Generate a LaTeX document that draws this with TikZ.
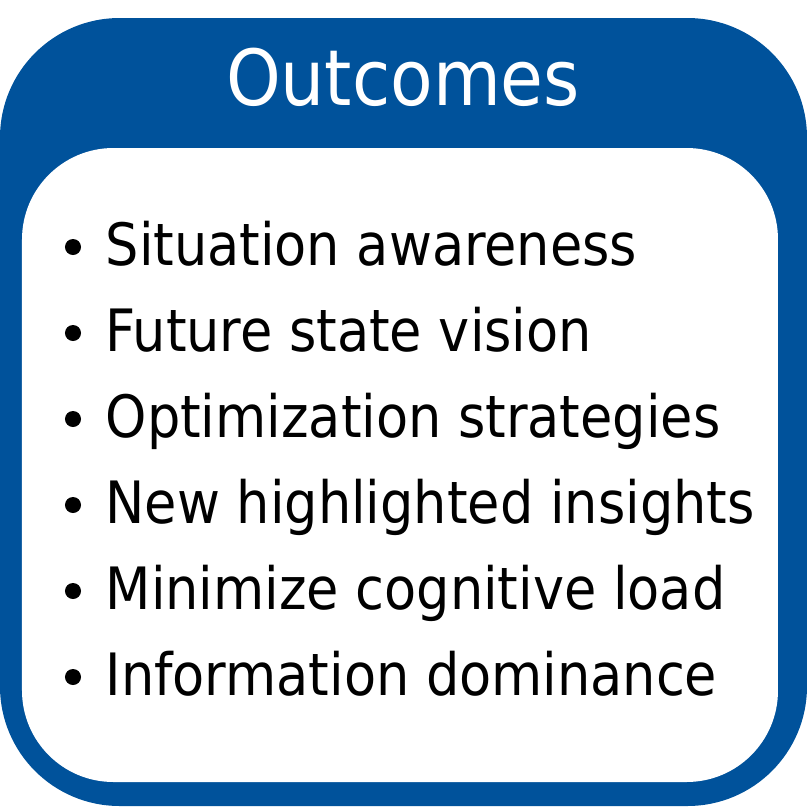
\documentclass[tikz,border=0pt]{standalone}
\usepackage{fontspec}
\setmainfont{DejaVu Sans Condensed}
\usetikzlibrary{positioning}
\definecolor{outblue}{RGB}{0,82,155}
\begin{document}
\begin{tikzpicture}[x=0.01cm,y=-0.01cm]
		\tikzstyle{item}=[anchor=base west, inner sep=0pt, text=black, font=\fontsize{16.6}{20}\selectfont]
		\tikzstyle{dot}=[circle, fill=black, inner sep=0pt, minimum size=0.16cm]
		\useasboundingbox (0,0) rectangle (807,808);
		% frames
		\fill[outblue, rounded corners=34pt] (0,18) rectangle (807,806);
		\fill[white, rounded corners=26pt] (22,148) rectangle (778,782);
		\node[text=white, font=\fontsize{22}{26}\selectfont, anchor=base] (title) at (403,105) {Outcomes};
		% items
		\foreach \t [count=\i] in {Situation awareness, Future state vision, Optimization strategies, New highlighted insights, Minimize cognitive load, Information dominance}{
			\node[item] (i\i) at (105,179+86*\i) {\t};
			\node[dot] (b\i) at (73,161+86*\i) {};
		}
\end{tikzpicture}
\end{document}
